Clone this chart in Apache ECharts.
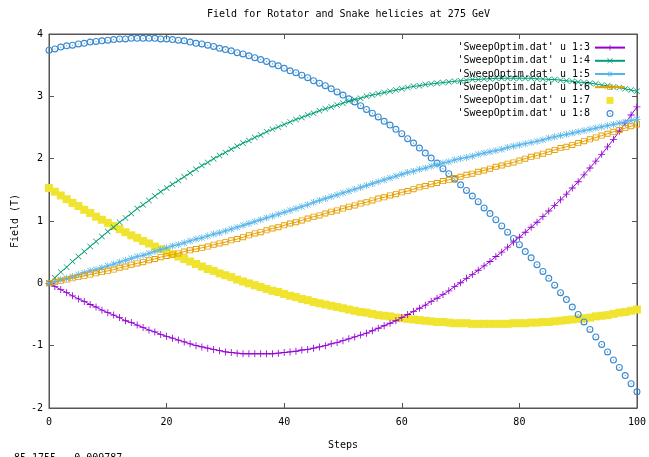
<!DOCTYPE html>
<html><head><meta charset="utf-8">
<script src="https://cdn.jsdelivr.net/npm/echarts@6/dist/echarts.min.js"></script>
<style>html,body{margin:0;padding:0;background:#fff}#c{width:649px;height:457px}</style>
</head><body><div id="c"></div>
<script>
const titleText = 'Field for Rotator and Snake helicies at 275 GeV';
const xName = 'Steps';
const yName = 'Field (T)';
const statusText = '85.1755, -0.009787';
const xTicks = [0, 20, 40, 60, 80, 100];
const yTicks = [-2, -1, 0, 1, 2, 3, 4];
const seriesNames = ["'SweepOptim.dat' u 1:3", "'SweepOptim.dat' u 1:4", "'SweepOptim.dat' u 1:5",
                     "'SweepOptim.dat' u 1:6", "'SweepOptim.dat' u 1:7", "'SweepOptim.dat' u 1:8"];
const steps = [0,1,2,3,4,5,6,7,8,9,10,11,12,13,14,15,16,17,18,19,20,21,22,23,24,25,26,27,28,29,30,
  31,32,33,34,35,36,37,38,39,40,41,42,43,44,45,46,47,48,49,50,51,52,53,54,55,56,57,58,59,60,
  61,62,63,64,65,66,67,68,69,70,71,72,73,74,75,76,77,78,79,80,81,82,83,84,85,86,87,88,89,90,
  91,92,93,94,95,96,97,98,99,100];
const col3 = [0,
  -0.05,-0.10,-0.15,-0.20,-0.25,-0.29,-0.34,-0.38,-0.43,-0.47,
  -0.51,-0.55,-0.60,-0.63,-0.67,-0.71,-0.75,-0.78,-0.82,-0.85,
  -0.88,-0.91,-0.94,-0.97,-1.00,-1.02,-1.04,-1.06,-1.08,-1.10,
  -1.11,-1.12,-1.13,-1.13,-1.13,-1.13,-1.13,-1.13,-1.12,-1.11,
  -1.10,-1.09,-1.07,-1.06,-1.04,-1.02,-1.00,-0.97,-0.95,-0.92,
  -0.89,-0.86,-0.83,-0.80,-0.76,-0.72,-0.68,-0.64,-0.60,-0.55,
  -0.50,-0.45,-0.40,-0.35,-0.29,-0.24,-0.18,-0.12,-0.05,0.01,
  0.08,0.14,0.21,0.28,0.35,0.43,0.50,0.58,0.66,0.74,
  0.82,0.90,0.98,1.07,1.16,1.25,1.34,1.43,1.53,1.63,
  1.74,1.85,1.96,2.07,2.19,2.31,2.44,2.57,2.70,2.83];
const col4 = [0,
  0.09,0.18,0.26,0.35,0.43,0.51,0.59,0.67,0.75,0.83,
  0.90,0.98,1.05,1.12,1.20,1.26,1.33,1.40,1.47,1.53,
  1.59,1.65,1.71,1.77,1.83,1.89,1.94,2.00,2.05,2.10,
  2.15,2.20,2.25,2.29,2.34,2.38,2.43,2.47,2.51,2.55,
  2.59,2.63,2.66,2.70,2.73,2.77,2.80,2.83,2.86,2.89,
  2.92,2.95,2.97,3.00,3.02,3.04,3.06,3.08,3.10,3.12,
  3.14,3.16,3.17,3.19,3.20,3.21,3.22,3.23,3.24,3.25,
  3.26,3.27,3.27,3.28,3.28,3.29,3.29,3.29,3.29,3.29,
  3.29,3.29,3.28,3.28,3.27,3.27,3.26,3.25,3.24,3.23,
  3.22,3.21,3.20,3.18,3.17,3.15,3.14,3.12,3.10,3.08];
const col5 = [0,
  0.03,0.06,0.08,0.11,0.14,0.17,0.20,0.22,0.25,0.28,
  0.31,0.34,0.37,0.40,0.43,0.45,0.48,0.51,0.54,0.57,
  0.60,0.62,0.65,0.68,0.71,0.73,0.76,0.79,0.81,0.84,
  0.87,0.90,0.93,0.96,0.99,1.02,1.05,1.08,1.11,1.14,
  1.17,1.20,1.23,1.26,1.30,1.33,1.36,1.39,1.42,1.45,
  1.48,1.51,1.54,1.57,1.60,1.63,1.66,1.69,1.72,1.75,
  1.78,1.80,1.83,1.85,1.88,1.90,1.93,1.95,1.98,2.00,
  2.02,2.04,2.07,2.09,2.11,2.13,2.15,2.18,2.20,2.22,
  2.24,2.26,2.28,2.30,2.33,2.35,2.37,2.39,2.41,2.43,
  2.45,2.47,2.49,2.51,2.53,2.55,2.57,2.59,2.61,2.63];
const col6 = [0,
  0.02,0.04,0.06,0.08,0.10,0.12,0.14,0.16,0.18,0.20,
  0.22,0.25,0.27,0.30,0.32,0.34,0.37,0.39,0.42,0.44,
  0.46,0.48,0.51,0.53,0.55,0.57,0.59,0.62,0.64,0.66,
  0.69,0.71,0.74,0.77,0.80,0.82,0.85,0.88,0.90,0.93,
  0.96,0.98,1.01,1.04,1.07,1.09,1.12,1.15,1.17,1.20,
  1.23,1.25,1.28,1.30,1.33,1.36,1.38,1.41,1.43,1.46,
  1.48,1.51,1.54,1.56,1.59,1.61,1.64,1.66,1.69,1.71,
  1.74,1.76,1.79,1.81,1.84,1.87,1.89,1.92,1.94,1.97,
  2.00,2.03,2.05,2.08,2.11,2.14,2.17,2.19,2.22,2.25,
  2.28,2.31,2.34,2.37,2.40,2.43,2.46,2.49,2.52,2.55];
const col7 = [1.53,
  1.47,1.41,1.35,1.29,1.24,1.18,1.13,1.07,1.02,0.97,
  0.92,0.87,0.82,0.77,0.73,0.68,0.64,0.59,0.55,0.51,
  0.47,0.43,0.39,0.35,0.31,0.27,0.23,0.20,0.16,0.13,
  0.10,0.06,0.03,0.00,-0.03,-0.06,-0.09,-0.12,-0.14,-0.17,
  -0.20,-0.22,-0.25,-0.27,-0.30,-0.32,-0.34,-0.36,-0.38,-0.40,
  -0.42,-0.44,-0.46,-0.47,-0.49,-0.51,-0.52,-0.53,-0.55,-0.56,
  -0.57,-0.58,-0.59,-0.60,-0.61,-0.62,-0.62,-0.63,-0.64,-0.64,
  -0.64,-0.65,-0.65,-0.65,-0.65,-0.65,-0.65,-0.65,-0.64,-0.64,
  -0.64,-0.63,-0.63,-0.62,-0.62,-0.61,-0.60,-0.59,-0.58,-0.57,
  -0.56,-0.55,-0.53,-0.52,-0.51,-0.49,-0.47,-0.46,-0.44,-0.42];
const col8 = [3.74,
  3.76,3.79,3.81,3.82,3.84,3.85,3.87,3.88,3.89,3.90,
  3.91,3.92,3.92,3.93,3.93,3.93,3.93,3.93,3.92,3.92,
  3.91,3.90,3.89,3.87,3.85,3.84,3.82,3.80,3.77,3.75,
  3.73,3.70,3.68,3.65,3.62,3.59,3.56,3.52,3.49,3.45,
  3.41,3.38,3.34,3.30,3.25,3.21,3.17,3.12,3.07,3.02,
  2.96,2.91,2.85,2.79,2.73,2.67,2.60,2.54,2.47,2.40,
  2.32,2.25,2.17,2.09,2.01,1.93,1.84,1.76,1.67,1.58,
  1.49,1.40,1.31,1.21,1.12,1.02,0.92,0.82,0.72,0.62,
  0.51,0.41,0.30,0.19,0.08,-0.03,-0.15,-0.26,-0.38,-0.50,
  -0.62,-0.74,-0.86,-0.98,-1.10,-1.23,-1.35,-1.48,-1.61,-1.74];

const colors = ['#9400d3', '#009e73', '#56b4e9', '#e69f00', '#f0e430', '#3a8ad0'];
const FONT = 'DejaVu Sans Mono';
const SYM_PLUS = 'path://M0,4.4H10V5.6H0Z M4.4,0H5.6V10H4.4Z';
const SYM_CROSS = 'path://M0,0.8L0.8,0L10,9.2L9.2,10Z M9.2,0L10,0.8L0.8,10L0,9.2Z';
const SYM_STAR = 'path://M0,4.45H10V5.55H0Z M4.45,0H5.55V10H4.45Z M0.6,1.3L1.3,0.6L9.4,8.7L8.7,9.4Z M8.7,0.6L9.4,1.3L1.3,9.4L0.6,8.7Z';
const SYM_OSQ = 'path://M0,0H10V10H0Z M1.5,1.5V8.5H8.5V1.5Z';
const SYM_FSQ = 'path://M0,0H10V10H0Z';
const SYM_OCIRC = 'path://M5,0A5,5 0 1,1 5,10A5,5 0 1,1 5,0Z M5,1.6A3.4,3.4 0 1,0 5,8.4A3.4,3.4 0 1,0 5,1.6Z M5,4.2A0.8,0.8 0 1,1 5,5.8A0.8,0.8 0 1,1 5,4.2Z';

const cols = [col3, col4, col5, col6, col7, col8];
const pairs = cols.map(c => steps.map((s, i) => [s, c[i]]));

function lineSeries(k, sym, size) {
  return {
    type: 'line', name: seriesNames[k], data: pairs[k],
    symbol: sym, symbolSize: size, showSymbol: true,
    lineStyle: { width: 1, color: colors[k] },
    itemStyle: { color: colors[k] },
    emphasis: { disabled: true }, silent: true
  };
}
function pointSeries(k, sym, size) {
  return {
    type: 'scatter', name: seriesNames[k], data: pairs[k],
    symbol: sym, symbolSize: size,
    itemStyle: { color: colors[k], opacity: 1 },
    emphasis: { disabled: true }, silent: true
  };
}

function axisCommon() {
  return {
    axisLine: { show: true, onZero: false, lineStyle: { color: '#555', width: 1 } },
    axisTick: { show: true, inside: true, length: 5, lineStyle: { color: '#555', width: 1 } },
    splitLine: { show: false }
  };
}

const chart = echarts.init(document.getElementById('c'), null, { renderer: 'canvas' });
chart.setOption({
  animation: false,
  backgroundColor: '#fff',
  title: {
    text: titleText, left: 343.5, top: 4, textAlign: 'center',
    textStyle: { fontFamily: FONT, fontSize: 10, fontWeight: 'normal', color: '#000' }
  },
  grid: { left: 49, top: 34, width: 589, height: 374, show: true, borderColor: '#555', borderWidth: 1, containLabel: false },
  legend: {
    orient: 'vertical', right: 18, top: 36, align: 'right',
    itemWidth: 30, itemHeight: 7, itemGap: 0,
    textStyle: { fontFamily: FONT, fontSize: 10, color: '#000', lineHeight: 13.2 },
    data: seriesNames
  },
  xAxis: [
    Object.assign({
      type: 'value', position: 'bottom', min: xTicks[0], max: xTicks[xTicks.length - 1], interval: xTicks[1] - xTicks[0],
      name: xName, nameLocation: 'middle', nameGap: 32,
      nameTextStyle: { fontFamily: FONT, fontSize: 10, color: '#000' },
      axisLabel: { margin: 9, fontFamily: FONT, fontSize: 10, color: '#000' }
    }, axisCommon()),
    Object.assign({
      type: 'value', position: 'top', min: xTicks[0], max: xTicks[xTicks.length - 1], interval: xTicks[1] - xTicks[0],
      axisLabel: { show: false }
    }, axisCommon())
  ],
  yAxis: [
    Object.assign({
      type: 'value', position: 'left', min: yTicks[0], max: yTicks[yTicks.length - 1], interval: yTicks[1] - yTicks[0],
      name: yName, nameLocation: 'middle', nameGap: 25,
      nameTextStyle: { fontFamily: FONT, fontSize: 10, color: '#000' },
      axisLabel: { margin: 6, fontFamily: FONT, fontSize: 10, color: '#000' }
    }, axisCommon()),
    Object.assign({
      type: 'value', position: 'right', min: yTicks[0], max: yTicks[yTicks.length - 1], interval: yTicks[1] - yTicks[0],
      axisLabel: { show: false }
    }, axisCommon())
  ],
  graphic: [{
    type: 'text', left: 14, top: 453,
    style: { text: statusText, font: '10px "DejaVu Sans Mono"', fill: '#000' }
  }],
  series: [
    lineSeries(0, SYM_PLUS, 7),
    lineSeries(1, SYM_CROSS, 6),
    lineSeries(2, SYM_STAR, 7),
    lineSeries(3, SYM_OSQ, 6),
    pointSeries(4, SYM_FSQ, 8),
    pointSeries(5, SYM_OCIRC, 7)
  ]
});
</script>
</body></html>
